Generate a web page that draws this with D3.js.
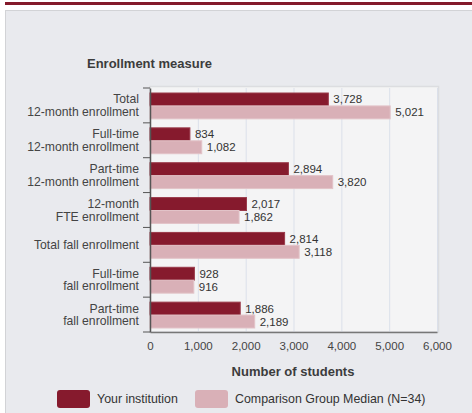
<!DOCTYPE html>
<html>
<head>
<meta charset="utf-8">
<script src="https://cdn.jsdelivr.net/npm/d3@7/dist/d3.min.js"></script>
<style>
  body { margin: 0; background: #fff; font-family: "Liberation Sans", Arial, sans-serif; }
  svg { display: block; }
</style>
</head>
<body>
<svg id="chart" width="472" height="413"></svg>
<script>
const categories = [
  ['Total', '12-month enrollment'],
  ['Full-time', '12-month enrollment'],
  ['Part-time', '12-month enrollment'],
  ['12-month', 'FTE enrollment'],
  ['Total fall enrollment'],
  ['Full-time', 'fall enrollment'],
  ['Part-time', 'fall enrollment']
];
const institution = [3728, 834, 2894, 2017, 2814, 928, 1886];
const comparison = [5021, 1082, 3820, 1862, 3118, 916, 2189];
const xTicks = [0, 1000, 2000, 3000, 4000, 5000, 6000];
const seriesNames = ['Your institution', 'Comparison Group Median (N=34)'];
const colors = ['#861a2d', '#d9b0b7'];

const svg = d3.select('#chart');
const [plotL, plotR, plotT, plotB] = [150, 437, 88, 332];

// page chrome
svg.append('rect').attr('x', 5).attr('y', 2).attr('width', 467).attr('height', 3).attr('fill', '#841a2b');
svg.append('rect').attr('x', 5.5).attr('y', 10.5).attr('width', 470).attr('height', 410)
  .attr('fill', '#e9eaee').attr('stroke', '#d2d3d6');

const x = d3.scaleLinear().domain([0, 6000]).range([plotL, plotR]);
const y = d3.scaleBand().domain(d3.range(categories.length)).range([plotT, plotB]);
const inner = d3.scaleBand().domain([0, 1]).range([5, y.bandwidth() - 4]);

svg.append('rect').attr('x', plotL).attr('y', plotT - 1.5).attr('width', plotR - plotL + 1.5).attr('height', plotB - plotT + 1.5)
  .attr('fill', '#f4f4f5').attr('stroke', '#dcdde0').attr('stroke-width', 1.5);

svg.append('g').selectAll('line').data(xTicks.slice(1)).join('line')
  .attr('x1', d => x(d) + 0.5).attr('x2', d => x(d) + 0.5)
  .attr('y1', plotT).attr('y2', plotB)
  .attr('stroke', '#dbe0ea');

const groups = svg.append('g').selectAll('g').data(categories).join('g')
  .attr('transform', (d, i) => `translate(0,${y(i)})`);

[institution, comparison].forEach((vals, s) => {
  groups.append('rect')
    .attr('x', plotL)
    .attr('y', inner(s))
    .attr('width', (d, i) => x(vals[i]) - plotL)
    .attr('height', inner.bandwidth())
    .attr('fill', colors[s])
    .attr('stroke', s === 0 ? '#9a3a4a' : '#e2c3c8')
    .attr('stroke-width', 1);
  groups.append('text')
    .attr('x', (d, i) => x(vals[i]) + 5)
    .attr('y', inner(s) + inner.bandwidth() / 2)
    .attr('dy', '0.35em')
    .attr('font-size', 11.5)
    .attr('fill', '#333')
    .text((d, i) => d3.format(',')(vals[i]));
});

// category labels
groups.append('text')
  .attr('x', 139)
  .attr('text-anchor', 'end')
  .attr('font-size', 12.2)
  .attr('fill', '#444')
  .selectAll('tspan').data(d => d.map((t, k) => ({ t, k, n: d.length }))).join('tspan')
  .attr('x', 139)
  .attr('y', d => y.bandwidth() / 2 + (d.k - (d.n - 1) / 2) * 12.5)
  .attr('dy', '0.35em')
  .text(d => d.t);

// axes
const yAxis = svg.append('g').attr('transform', `translate(${plotL},0)`)
  .call(d3.axisLeft(y).tickSize(0).tickFormat(''));
yAxis.select('.domain').attr('stroke', '#555').attr('stroke-width', 1.5);
svg.append('g').selectAll('line').data(d3.range(categories.length + 1)).join('line')
  .attr('x1', plotL - 7).attr('x2', plotL)
  .attr('y1', d => plotT + d * y.bandwidth()).attr('y2', d => plotT + d * y.bandwidth())
  .attr('stroke', '#555');

const xAxis = svg.append('g').attr('transform', `translate(0,${plotB})`)
  .call(d3.axisBottom(x).tickValues(xTicks).tickSize(0).tickPadding(10).tickFormat(d3.format(',')));
xAxis.select('.domain').attr('stroke', '#777').attr('stroke-width', 1.5);
xAxis.selectAll('text').attr('font-size', 11.5).attr('fill', '#444').attr('font-family', '"Liberation Sans", Arial, sans-serif');

svg.append('text').attr('x', 87).attr('y', 67.5).attr('font-size', 13).attr('font-weight', 'bold')
  .attr('fill', '#3c3c3c').text('Enrollment measure');
svg.append('text').attr('x', 293).attr('y', 375.5).attr('text-anchor', 'middle')
  .attr('font-size', 13).attr('font-weight', 'bold').attr('fill', '#3c3c3c').text('Number of students');

// legend
const legendX = [57, 195];
const legend = svg.append('g').selectAll('g').data(seriesNames).join('g')
  .attr('transform', (d, i) => `translate(${legendX[i]},390)`);
legend.append('rect').attr('width', 33).attr('height', 18).attr('rx', 3).attr('fill', (d, i) => colors[i]);
legend.append('text').attr('x', 40).attr('y', 9).attr('dy', '0.35em').attr('font-size', 12.4)
  .attr('fill', '#333').text(d => d);
</script>
</body>
</html>
